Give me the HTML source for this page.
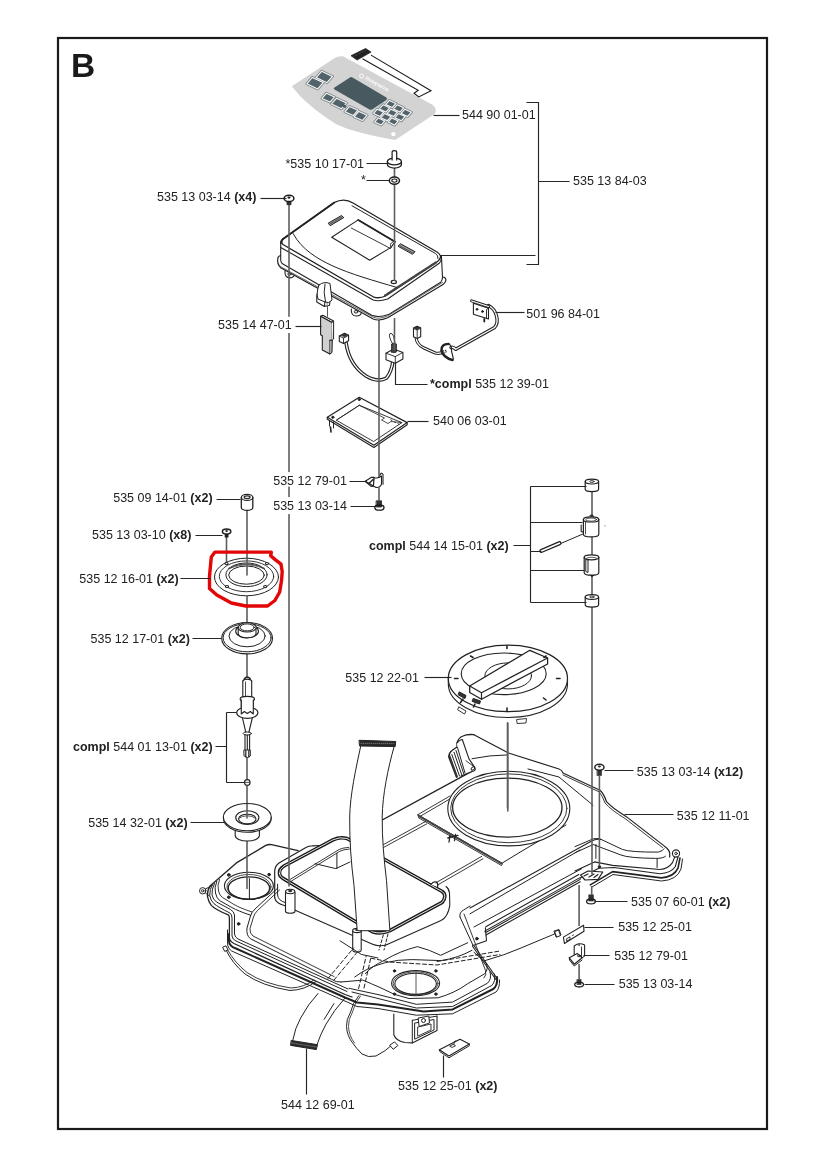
<!DOCTYPE html>
<html><head><meta charset="utf-8">
<style>
html,body{margin:0;padding:0;background:#fff;}
body{width:826px;height:1168px;overflow:hidden;}
svg{display:block;will-change:transform;}
text{font-family:"Liberation Sans",sans-serif;font-size:12.5px;fill:#222;}
.b{font-weight:bold;}
.ln{stroke:#262626;stroke-width:1.15;fill:none;}
.o{stroke:#222;stroke-width:1;fill:none;stroke-linejoin:round;stroke-linecap:round;}
.ow{stroke:#222;stroke-width:1;fill:#fff;stroke-linejoin:round;}
.halo{stroke:#fff;stroke-width:3;paint-order:stroke;}
</style></head>
<body>
<svg width="826" height="1168" viewBox="0 0 826 1168">
<!-- frame -->
<rect x="58" y="38" width="709" height="1091" fill="none" stroke="#1a1a1a" stroke-width="2.2"/>
<text x="71" y="77" style="font-size:33.5px;font-weight:bold;fill:#1a1a1a">B</text>

<!-- PARTS -->
<g id="parts">
<g id="base" class="o">
<!-- white body fill -->
<path d="M211.8 883.6 L237.2 861.8 L268 845.4 L299 850 L342 836 L383 818 L455 739.4 Q462 733 472 734.5 L508 754.9 L556 769.4 L591 786.8 L627.8 821 L663.4 843 Q670 848 668.5 855 L677 865 L670 877 L614 872 L594 884 L579 885 L497 978.5 L492.6 987.2 L427.3 1011.5 L386.6 1007.7 L355 1000.7 L237.2 945.3 L229 941.7 L230 918 L211.8 905.4 L208.2 894.5 Z" fill="#fff" stroke="none"/>

<!-- ===== left lobe outer contours ===== -->
<path d="M298 850.7 L271.5 844.6 Q268 844.3 265.8 845.4 L236.4 862.9 L210.3 885.8" stroke-width="1.35"/>
<path d="M210.3 885.8 Q207 890 207.5 896.7 Q208.5 902 211.3 905.4 Q215 909.5 228.8 915.2 Q229.5 916.5 229.4 920 V938 Q230 941.5 234 943.5 L345 994.5 L352 997" stroke-width="1.3"/>
<path d="M212.5 884.5 Q209.5 889 209.7 895.5 Q210.5 900.5 214 903.7 Q218 907 229.9 913 Q232 914.5 232 918 V936 Q232.5 939.5 236 941 L347 991.5" stroke-width="1"/>
<path d="M214.5 883.5 Q211.5 889 212 895 Q213 899.5 216.5 902 L230.5 909.5 Q234 911.5 234.5 915 V934 Q235 937.5 238 939 L348 989" stroke-width="1"/>
<path d="M216.8 881.4 Q214 888 215.5 893 Q216.5 898 219.5 900.5 L232 907.6 Q238 911 250.6 915.2" stroke-width="1"/>
<path d="M219.5 879.5 Q217 886 218.5 891 Q219.5 895.5 222.5 897.5 L234 904.5 Q240 908 252 912" stroke-width="0.9"/>
<!-- left ear -->
<circle cx="202.7" cy="890.8" r="3.2" fill="#fff"/>
<circle cx="202.7" cy="890.8" r="1.2"/>
<path d="M205.5 889 L212 885.5 M205.5 893 L209.5 896"/>
<!-- inner surface of left lobe -->
<path d="M277.8 888 L255 909 Q251.5 912 250.5 916 L247 928 Q246 935 250.4 938.7 L331.7 979.4 Q336 982.5 341 982" stroke-width="1"/>
<path d="M279.5 890 L257.5 910.5 Q254.5 913.5 253.5 917 L250 928.5 Q249.5 933.5 253 936 L334 976.5" stroke-width="0.9"/>
<circle cx="238.6" cy="923.9" r="1.3" fill="#222"/>
<!-- left lobe hole -->
<ellipse cx="248.9" cy="885.8" rx="24.5" ry="13.6" fill="#fff" stroke-width="1.1"/>
<ellipse cx="249" cy="886.9" rx="22" ry="12.4" stroke-width="0.8"/>
<ellipse cx="248.9" cy="888" rx="20.7" ry="11.2" stroke-width="1.3"/>
<circle cx="228.8" cy="874.9" r="1.3" fill="#222"/><circle cx="269.1" cy="874.6" r="1.3" fill="#222"/><circle cx="228.8" cy="897.2" r="1.3" fill="#222"/>
<path d="M249.4 878.6 V899" stroke="#222" stroke-width="1"/>
<!-- left wire -->
<path d="M226 950 Q232 963 245 974 Q262 986 290 990.5 Q305 990 316 981.5" stroke-width="1"/><path d="M227.5 949.5 Q234 962 247 972.5 Q264 984 291 988 Q304 987.5 314 980" stroke-width="0.9"/>
<path d="M226 950 Q232 963 245 974 Q262 986 290 990.5 Q305 990 316 981.5" stroke="#fff" stroke-width="0" />
<path d="M223 947 L226 945.8 L228 950 L225 951.2 Z" fill="#fff" stroke-width="1"/>

<!-- ===== gasket frame & raised housing ===== -->
<!-- gasket (thick double line) -->
<path d="M274.7 897.8 V870.7 Q275 866 279 863 L306.4 847.3 Q309 845.8 312 845.8 L322 845.5" stroke-width="1.2"/>
<path d="M277.6 884.2 V895 Q278 900.5 285.3 902.6" stroke-width="1"/>
<path d="M274.7 897.8 Q276 903.5 284.4 905.5 L372 944 Q379 947 386 945 L441 920.5 Q448 917 449.8 905.3 L449.5 893 Q449 888.5 446 886.5" stroke-width="1.1"/>
<path d="M290 879.5 L339.1 849.5 Q342 847.9 348.9 847.3 M291.5 881 L339.8 851.3 Q343 849.5 349.5 849" stroke-width="0.9"/>
<path d="M315.1 863.7 L335.8 868.6 L350 862 M336.9 853.3 V868.6" stroke-width="1"/>
<path d="M279.5 873.6 Q279 869 284 866 L333 839.8 Q340 836.5 347 838.5 L442.2 891.5 Q447.5 895.5 442.2 902.4 L389.9 930.7 Q381 934.5 372.4 931.8 L283 878.4 Q279.5 876.5 279.5 873.6 Z" stroke-width="3.6" stroke="#1a1a1a"/>
<path d="M279.5 873.6 Q279 869 284 866 L333 839.8 Q340 836.5 347 838.5 L442.2 891.5 Q447.5 895.5 442.2 902.4 L389.9 930.7 Q381 934.5 372.4 931.8 L283 878.4 Q279.5 876.5 279.5 873.6 Z" stroke="#fff" stroke-width="0.9"/>

<!-- clip on gasket corner -->
<path d="M431 884.5 Q433 881 436.5 882 Q438.5 884 437.5 887" fill="#fff" stroke-width="1.2"/>
<!-- posts -->
<path d="M285.5 892 V911.5 A4.8 2 0 0 0 295 911.5 V892" fill="#fff" stroke-width="1.1"/>
<ellipse cx="290.2" cy="891.5" rx="4.6" ry="2.2" fill="#fff" stroke-width="1.1"/>
<ellipse cx="290.2" cy="891" rx="2" ry="1.2" fill="#333" stroke="none"/>
<path d="M352.7 931 V950 A4.2 2 0 0 0 361.2 950 V931" fill="#fff" stroke-width="1.1"/>
<ellipse cx="357" cy="930.5" rx="4.3" ry="2.1" fill="#fff" stroke-width="1.1"/>
<ellipse cx="357" cy="930" rx="1.9" ry="1.1" fill="#333" stroke="none"/>

<!-- ===== platform / rear ===== -->
<path d="M350 837.5 L474.9 769.6" stroke-width="1.4"/>
<path d="M382.7 845 L425.7 821.4 M383.5 847.5 L426.5 824" stroke-width="0.9"/>
<path d="M436 882.7 L481.7 856.4 M437.6 885 L483 858.8" stroke-width="0.9"/>
<path d="M470 913.8 L580 850" stroke-width="1"/>
<!-- rear bump -->
<path d="M456.5 777.3 L448.7 757 Q449 752.5 452 750.5 L457 747 L457 742.9 Q458.5 737.5 463 736 Q467 734 473.9 734.7" fill="#fff" stroke-width="1.3"/>
<path d="M457 742.9 Q460 739.5 462.3 739.5 L469 758.9 L474.9 767.6 Q476 771 472 771.5 L461 776" fill="#fff" stroke-width="1.1"/>
<path d="M457.5 747.5 L465 773" stroke-width="1"/>
<path d="M449.8 757.5 L457.3 776.8 M451.8 754.5 L459.5 776 M454 752.3 L461.8 775 M456 750.5 L463.8 774" stroke-width="1"/>
<path d="M449.5 756 L456.8 776.5" stroke="#333" stroke-width="2" stroke-dasharray="0.7 0.7"/>
<path d="M466 760.8 L474.5 767" stroke-width="0.9"/>
<ellipse cx="472.9" cy="768.5" rx="2" ry="1.3" transform="rotate(-35 472.9 768.5)" stroke-width="1"/>
<path d="M472 758.7 Q490 755 507.8 754.9" stroke-width="1"/>
<path d="M528 769 L559 777 L593 805.2" stroke-width="1"/>
<!-- right wing top -->
<path d="M473.9 734.7 L508.5 753 L559 769 Q562 770 563 773 L600 790.3 Q604 794 606.5 801.7 Q612 808 626 816.4 L664.1 845.9 Q670 850 669.7 854 L669.7 857" stroke-width="1.2"/>
<path d="M563 775 L599 791.8 Q602.5 795.5 605 803 Q611 810 625 818.5 L662.5 847.5" stroke-width="0.9"/>
<!-- wing faces -->
<path d="M575 846.6 L593.1 838.9 Q597 838 600 838.9 L622.3 849.4 Q630 852.3 658.5 852.1 Q663 851 664.1 848.7" stroke-width="1"/>
<path d="M575 852.8 L593.1 844.5 L621 855 Q628 858 655.7 858.4 Q663 858.5 665.5 856.3" stroke-width="1"/>
<path d="M595.9 844.5 V858.4 M657.1 859.1 V867.5" stroke-width="1"/>
<!-- wing flange -->
<path d="M575 871 L594.5 861.9 L612.6 865.4 L659.9 869.5 Q668 869 672.5 862.6 L675.2 855.6" stroke-width="1.1"/>
<path d="M577.8 879.3 L598.7 868.2 L614 867.5 L659.9 873.7 Q671 873 675.2 866.8 L678 857" stroke-width="1.1"/>
<path d="M590.3 884.9 L612.6 871.6 L661.3 877.9 Q674 877 678 868.2 L680 858" stroke-width="1.6"/>
<path d="M592 887 L613 874.5 L661.5 881 Q677 880 681 869 L682.5 859" stroke-width="1"/>
<circle cx="676" cy="853.5" r="3.6" fill="#fff" stroke-width="1.1"/>
<circle cx="676" cy="853.5" r="1.3" stroke-width="0.9"/>
<circle cx="599.4" cy="866.8" r="1.2" fill="#222"/>
<path d="M580.6 875 L588 871 L602.8 872 L598 879.3 L585 880 Z" fill="#fff" stroke-width="1.2"/><path d="M584 876 l4 -2 M589 877 l5 -3 M594 877.5 l4 -3" stroke-width="1.2"/>
<!-- right platform edge lines -->
<path d="M470 908 L591.7 841 Q596 838.5 601 839.5" stroke-width="1.1"/>
<path d="M474 927 L581.7 868.7" stroke-width="1"/>
<!-- right front flange with dark band -->
<path d="M485.8 926.8 L578.8 874.5" stroke-width="1.1"/>
<path d="M485.8 931.5 L579.5 878.8" stroke-width="2.6"/>
<path d="M485.8 931.5 L579.5 878.8" stroke="#fff" stroke-width="0.8"/>
<path d="M486 935 L580.2 881.8" stroke-width="1.1"/>
<path d="M485.4 927.8 L486.5 940.7 L473 945.6" stroke-width="1.1"/>
<circle cx="476.9" cy="938.7" r="1.3" fill="#222"/>
<!-- inner platform corner near center-front -->
<path d="M460 917 Q459 912.5 463.6 910 L470 906" stroke-width="1"/>
<path d="M460 917 L473.3 946" stroke-width="1"/>
<path d="M473.3 946 L496.3 978.7" stroke-width="2.6"/>
<path d="M473.3 946 L496.3 978.7" stroke="#fff" stroke-width="0.7"/>
<path d="M464 914 L485.4 970.2 Q487 975 484 978" stroke-width="0.9"/>

<!-- ===== center front lobe ===== -->
<path d="M354.7 977 Q368 967 385.6 962.6 Q398 959.5 412.3 959.6 L441.1 960.6 Q458 958 472 950.3" stroke-width="1"/>
<path d="M365.2 973.7 Q372 966 384.6 960.2 Q400 951 417.5 946.6 Q430 950 440.7 955.3 L467.8 942.7" stroke-width="1"/>
<path d="M340 940.8 L361.3 954.4 L378 958" stroke-width="1"/>
<path d="M341 982 L362.9 980.1 Q372 984 380 987.5 Q395 996 409 998.5 L438.1 997.8 Q455 993 467.2 984 L484.6 973.8 Q489 969 486 963 L474 952.3" stroke-width="1"/>
<path d="M349 988.3 L380 995 L416.3 1004.3 L452.6 1002.1 L487.5 983.2 Q492 979 490 972" stroke-width="1"/>
<path d="M352 992 L380 999 L416.3 1008 L452.6 1006.5 L491.9 985.4 Q496 981 494.5 974" stroke-width="1"/>

<ellipse cx="415.6" cy="983.2" rx="24" ry="12.6" fill="#fff" stroke-width="1.1"/>
<ellipse cx="415.6" cy="983.4" rx="22.4" ry="11.5" stroke-width="0.8"/>
<ellipse cx="415.6" cy="983.8" rx="20.8" ry="10.6" stroke-width="1.1"/>
<path d="M416 972 V994" stroke="#444" stroke-width="0.9"/>
<circle cx="394.5" cy="970.9" r="1.2" fill="#222"/><circle cx="435.9" cy="970.9" r="1.2" fill="#222"/>
<circle cx="394.5" cy="994.1" r="1.2" fill="#222"/><circle cx="435.9" cy="994.1" r="1.2" fill="#222"/>
<!-- motor box below lobe -->
<path d="M393.8 1014 V1034.7 Q396 1041 405 1042.5 L412.3 1042.9 L437 1030.6 V1016.1" fill="#fff" stroke-width="1.1"/>
<path d="M412.3 1020.3 V1042.9 M412.3 1020.3 L437 1016.1" stroke-width="1"/>
<path d="M415 1023 L434 1019.5 V1030 L415 1039 Z" stroke-width="1"/>
<path d="M418 1027 L431 1024 V1030 L418 1036 Z" fill="#fff" stroke-width="0.9"/>
<path d="M418.5 1018 L428.8 1016 L429.5 1023 L419.5 1026.4 Z" fill="#fff" stroke-width="1"/>
<circle cx="423.5" cy="1020.5" r="2" stroke-width="1"/>
<!-- front wire -->
<path d="M358.8 995.6 Q352 1004 350.6 1012 Q346 1020 346.5 1026.4 Q347 1036 352.6 1042.9 Q356 1048 362 1054 Q368 1058 376 1056 Q386 1051 392 1045" stroke-width="1"/><path d="M360.5 996 Q354 1004 352.5 1012 Q348 1020 348.5 1026.4 Q349 1036 354.5 1042.9" stroke-width="0.8"/>
<path d="M390 1045 L394.5 1041.9 L397.9 1045.5 L393.5 1049 Z" fill="#fff" stroke-width="1"/>
<!-- right wire -->
<path d="M485.4 960.5 Q505 955 520 948.4 L554.5 934" stroke-width="1"/>
<path d="M554.3 931 L559 929.5 L561 935 L556.5 936.9 Z" fill="#fff" stroke-width="1"/>
<!-- dashed lines (hidden ribbon) -->
<g stroke-dasharray="4 2.5" stroke-width="1">
<path d="M328 978.5 L353.6 948"/>
<path d="M334 980 L359 950"/>
<path d="M358.6 988.6 L366.3 955.6"/>
<path d="M364 988 L371 957"/>
<path d="M371 958.2 L390.4 962.1 L437 965 L500 954.5"/>
<path d="M437 961.5 L500 951"/>
</g>

<!-- ===== tray & ring ===== -->
<path d="M417.8 814.7 L449.9 796 M419 817 L451 798.3" stroke-width="0.9"/>
<path d="M417.8 814.7 L502 863.2 L520 852.2 L566 825" stroke-width="1"/>
<path d="M418.5 815.8 L502 863.8" stroke="#444" stroke-width="2" stroke-dasharray="0.6 1"/><path d="M418.5 817.8 L501.5 865.5" stroke-width="0.9"/>
<path d="M447.8 838 L458 835.3 M450 835.5 L449 842 M455.5 834.5 L454.5 840.5" stroke-width="1.3"/>
<ellipse cx="508.8" cy="808.6" rx="61" ry="37.3" fill="#fff" stroke-width="1.1"/>
<ellipse cx="508.8" cy="808.3" rx="58.1" ry="34.4" stroke-width="0.9"/>
<ellipse cx="507.3" cy="807.6" rx="54.7" ry="29.5" stroke-width="1.3"/>
<path d="M507.8 723 V811" stroke="#5e5e5e" stroke-width="1.6"/>

<!-- ribbon upper -->
<path d="M360.8 745.8 C356 768 350 795 349.7 817 C349.5 840 351 862 354 885.5 L357.2 930.7 L389.9 930.7 L386.5 880.4 C384 860 382 838 382.2 817 C382.5 795 388 768 394.2 746.3 Z" fill="#fff" stroke-width="1"/>
<path d="M359.4 740.3 L395.7 741.5 L395.2 746.5 L359.9 746 Z" fill="#2a2a2a" stroke="#222" stroke-width="1"/>
<path d="M361 743.4 H394" stroke="#999" stroke-width="0.6" stroke-dasharray="0.7 1.3"/>
<path d="M383.3 935 L379 950 M388 934 L384 950" stroke-dasharray="3 2" stroke-width="1"/>
</g>

<g id="left" class="o">
<g stroke="#5e5e5e" stroke-width="1.6">
<path d="M247 510.5V567M247 596V622M247 654V677M247 757V779.5M247 785.5V804.5M247 841V888.5"/>
<path d="M226.5 537.5V562"/>
</g>
<!-- spacer 535 09 14-01 -->
<path d="M241.3 497.4 V507.4 A5.75 3 0 0 0 252.8 507.4 V497.4" fill="#fff" stroke-width="1.3"/>
<ellipse cx="247.1" cy="497.4" rx="5.75" ry="3" fill="#fff" stroke-width="1.3"/>
<ellipse cx="247.1" cy="497.2" rx="3" ry="1.3" stroke-width="1.1"/>
<!-- screw 535 13 03-10 -->
<path d="M224.7 533.5H228.5V537.5H224.7Z" fill="#222" stroke="none"/>
<ellipse cx="226.6" cy="531.6" rx="4.2" ry="2.5" fill="#fff" stroke-width="1.5"/>
<ellipse cx="226.6" cy="531" rx="1.3" ry="0.9" fill="#222" stroke="none"/>
<!-- ring 535 12 16-01 -->
<ellipse cx="246.5" cy="577" rx="32" ry="18.8" fill="#fff" stroke-width="1"/>
<ellipse cx="246.5" cy="576.3" rx="27.2" ry="15.4" stroke-width="0.9"/>
<ellipse cx="246.5" cy="574.8" rx="20.6" ry="11.8" fill="#fff" stroke-width="1"/>
<ellipse cx="246.5" cy="575.1" rx="17.8" ry="9.1" stroke-width="1"/>
<path d="M229 568.5 Q246.5 560 264 568.5" stroke-width="1.6" stroke="#444"/>
<path d="M233 567 Q246.5 562.5 260 567" stroke-width="1" stroke="#777"/>
<g fill="#fff" stroke-width="1.1">
<ellipse cx="226.5" cy="563.6" rx="1.6" ry="1.1"/><ellipse cx="267" cy="563.6" rx="1.6" ry="1.1"/>
<ellipse cx="227" cy="586.6" rx="1.6" ry="1.1"/><ellipse cx="265.2" cy="586.6" rx="1.6" ry="1.1"/>
</g>
<path d="M247 559V575" stroke="#5e5e5e" stroke-width="1.6"/>
<!-- red loop -->
<path d="M215 552.1 L271.3 552.1 L270.7 555.7 L274.9 559.4 L281 564.2 L282.2 571.5 L281.6 580 L279.7 592 L274.9 600.5 L267.6 606 L245.8 606 L231.3 603 L216.8 595.1 L209.5 588.4 L209.5 576.3 L211.3 557 Z" fill="none" stroke="#e20606" stroke-width="3.4" stroke-linejoin="round"/>
<!-- diaphragm 535 12 17-01 -->
<ellipse cx="247.1" cy="638.2" rx="25.4" ry="15.7" fill="#fff" stroke-width="1.1"/>
<ellipse cx="247.1" cy="637.8" rx="24" ry="14" stroke-width="1"/>
<ellipse cx="247.1" cy="636" rx="18.1" ry="10.8" stroke-width="1"/>
<ellipse cx="247.1" cy="631.3" rx="11.4" ry="6.5" fill="#fff" stroke-width="1.1"/>
<path d="M238.2 627.4 V634 A9 4.5 0 0 0 256 634 V627.4" fill="#fff" stroke-width="1.1"/>
<ellipse cx="247.2" cy="627.4" rx="8.9" ry="4.6" fill="#fff" stroke-width="1.1"/>
<ellipse cx="247.2" cy="627.4" rx="7" ry="3.5" fill="#fff" stroke-width="1"/>
<!-- valve compl 544 01 13-01 -->
<path d="M242.8 681 V699 M251.7 681 V699" stroke-width="1.1"/>
<path d="M245.5 682 V698" stroke-width="0.8"/>
<path d="M242.8 681.1 A4.5 2.4 0 0 1 251.7 681.1" stroke-width="1.2"/>
<path d="M244.5 678.5 Q247.3 675.5 250 678.5" stroke-width="1.6"/>
<ellipse cx="247.3" cy="699" rx="7.2" ry="2.6" fill="#fff" stroke-width="1.1"/>
<path d="M241.3 700 V713 M253.3 700 V713" stroke-width="1.1"/>
<ellipse cx="247.3" cy="712.8" rx="10.6" ry="5.6" fill="#fff" stroke-width="1.1"/>
<path d="M241.3 700 V714 L244.3 711.5 L247.3 713.5 L250.3 711.5 L253.3 714 V700" fill="#fff" stroke-width="1.1"/>
<path d="M242.5 718 L246 733 M252.3 718 L248.7 733" stroke-width="1.1"/>
<ellipse cx="247.3" cy="733.5" rx="4.2" ry="1.6" fill="#fff" stroke-width="1"/>
<path d="M245 734.5 V750 M249.6 734.5 V750 M247.3 735 V750" stroke-width="1.1"/>
<path d="M244.3 750 H250.3 V756 L247.3 757.5 L244.3 756Z" fill="#fff" stroke-width="1"/><path d="M245.8 750.5 V757 M248.8 750.5 V757" stroke-width="1.2"/>
<circle cx="247.3" cy="782.4" r="2.8" fill="#fff" stroke-width="1.1"/>
<path d="M245 782.4 H249.6" stroke-width="0.8"/>
<!-- grommet 535 14 32-01 -->
<path d="M235.2 829 V835.5 A12.1 5.5 0 0 0 259.4 835.5 V829" fill="#fff" stroke-width="1.1"/>
<path d="M223.4 817.1 V818.6 A23.9 13.6 0 0 0 271.2 818.6 V817.1" fill="#fff" stroke-width="1.1"/>
<ellipse cx="247.3" cy="817.1" rx="23.9" ry="13.6" fill="#fff" stroke-width="1.1"/>
<ellipse cx="247.3" cy="817.6" rx="11.6" ry="6.8" fill="#fff" stroke-width="1.1"/>
<ellipse cx="247.3" cy="819" rx="8.7" ry="4.8" fill="#fff" stroke-width="1.1"/>
<path d="M239.5 818 A8.7 4 0 0 1 255 818" stroke-width="0.8"/>
<path d="M247 804.5 V818" stroke="#5e5e5e" stroke-width="1.6"/>
</g>

<g id="mid1" class="o">
<!-- clip on lid -->
<path d="M322.7 281.4 L329.9 285.1 Q332 288 331 293 L329.5 305.3 L324.4 306.4 L316.8 302 L316.8 295.8 Q317.5 289 320.3 284 Z" fill="#fff" stroke-width="1.1"/>
<path d="M329.9 285.1 Q325.5 290 324.4 306.4" stroke-width="1"/>
<path d="M331 288 Q327.5 293 327 306" stroke="#999" stroke-width="1.2"/>
<path d="M327.5 306.4V316.3" stroke="#555"/>
<!-- tab 535 14 47-01 -->
<path d="M320.6 316.3 L322.7 315.3 L333.6 321.1 L331.9 322.5 Z" fill="#fff" stroke-width="1.1"/>
<path d="M320.6 316.3 V334.8 L322.3 335.8 V349.9 L329.9 354 V340.3 L332.3 340.3 V322.5 L331.9 322.5 Z" fill="#d0d0d0" stroke-width="1.1"/>
<path d="M331.9 322.5 L333.6 321.1 V339 L332.3 340.3" fill="#fff" stroke-width="1"/>
<path d="M329.9 340.3 L332.3 340.3 L332 352.5 L329.9 354" fill="#a8a8a8" stroke-width="1"/>
</g>

<g id="mid2" class="o">
<!-- 501 96 84-01 wire -->
<path d="M488.5 305.5 Q495 309 496.5 316 Q498.5 323 494.6 327.5 L455.8 349.3 Q453 346.5 451 347.5" stroke="#222" stroke-width="3.4"/>
<path d="M488.5 305.5 Q495 309 496.5 316 Q498.5 323 494.6 327.5 L455.8 349.3 Q453 346.5 451 347.5" stroke="#fff" stroke-width="1.3"/>
<path d="M473.4 303.3 L488.5 308.2 L488.5 319 L473.4 314.2 Z" fill="#fff" stroke-width="1.1"/>
<path d="M488.5 308.2 L486.5 309.5 V318.5" stroke-width="0.9"/>
<path d="M471.6 300.9 L488.5 306.5" stroke="#222" stroke-width="3"/>
<path d="M471.6 300.9 L488.5 306.5" stroke="#fff" stroke-width="1.1"/>
<circle cx="477" cy="309.3" r="0.9" fill="#222"/><circle cx="482.5" cy="311.5" r="0.9" fill="#222"/>
<path d="M484.3 319 V321.5" stroke-width="1.8"/>
<!-- compl 535 12 39-01 left connector & cable -->
<path d="M346.1 343 C348 356 354 368 366 376 Q378 383 386.5 378 Q391.5 372 393 361" stroke="#222" stroke-width="3.6"/>
<path d="M346.1 343 C348 356 354 368 366 376 Q378 383 386.5 378 Q391.5 372 393 361" stroke="#fff" stroke-width="1.4"/>
<path d="M339.3 336 L344.5 333.2 L348.6 335.2 L348.6 340.8 L343.5 343.6 L339.3 341.6 Z" fill="#fff" stroke-width="1.1"/>
<path d="M339.3 336 L343.5 338.2 L348.6 335.2 M343.5 338.2 V343.6" stroke-width="0.9"/>
<path d="M341.5 335.5 L344.6 333.8 L347.5 335.3 L344.4 337 Z" fill="#333" stroke-width="0.5"/>
<!-- switch -->
<path d="M386 353.2 L393.6 349 L402.9 352.4 L402.9 359 L395.3 363.2 L386 359.8 Z" fill="#fff" stroke-width="1.1"/>
<path d="M386 353.2 L395.3 356.6 L402.9 352.4 M395.3 356.6 V363.2" stroke-width="0.9"/>
<path d="M391.5 352 V344 Q394 342.5 396.5 344 V352 Q394 353.5 391.5 352Z" fill="#444" stroke-width="0.8"/>
<path d="M392.5 343.5 Q388 336 390 333.5 Q392 332.5 393.5 336 L395 343" stroke-width="0.9"/>
<!-- right connector & cable -->
<path d="M416 337 Q416.5 344.5 424 348 L435.3 353 Q440 354 445 351.5" stroke="#222" stroke-width="3.2"/>
<path d="M416 337 Q416.5 344.5 424 348 L435.3 353 Q440 354 445 351.5" stroke="#fff" stroke-width="1.2"/>
<path d="M413.5 328 L417 326.3 L420.7 327.8 L420.7 336.8 L417.2 338.4 L413.5 336.8 Z" fill="#fff" stroke-width="1.1"/>
<path d="M413.8 328.5 L417.2 330 L420.5 328.3 M417.2 330 V338" stroke-width="0.9"/>
<path d="M414 328 L417 326.6 L420 328 L417 329.4Z" fill="#333" stroke-width="0.5"/>
<path d="M448.5 344 Q441 344 441.5 350.5 Q443 357.5 452.5 360" stroke="#222" stroke-width="2.6"/>
<path d="M448 345.5 Q444 347 444.5 351 Q446 356 451.5 358" stroke="#fff" stroke-width="0.8"/>
<path d="M449 344 Q452 346 451.5 351 L453.4 359" stroke-width="1.1"/>
<!-- board 540 06 03-01 -->
<path d="M327.3 417.3 L359.3 397.3 L407.2 422.6 L373.9 445.2 Z" fill="#fff" stroke-width="1.2"/>
<path d="M327.3 417.3 L327.3 419.3 L373.9 447.5 L407.2 424.8 L407.2 422.6" stroke-width="1.1"/>
<path d="M336.6 420 L359.3 405.3 L401.9 422.6 L373.9 441.3 Z" stroke-width="0.9"/>
<path d="M359.3 405.3 L384.5 418 L381.5 420 L388 423.5 L391 421.5 L401.9 422.6" stroke-width="0.8"/><path d="M336.6 420 L359.3 405.3" stroke-width="0.8"/>
<circle cx="359.3" cy="399.5" r="1.1" fill="#222"/>
<circle cx="332.8" cy="417.3" r="1.1" fill="#222"/>
<path d="M329.5 420.5 V426 M333.5 422 V428" stroke-width="1"/>
<path d="M330.5 427 L331 432" stroke-width="1.6"/>
<path d="M391 420 l1 0.5 M394.5 422 l1 0.5 M398 423.8 l1 0.5" stroke-width="1"/>
<!-- clip 535 12 79-01 -->
<path d="M373.9 477.4 Q378 479 381.5 476 V484.2 Q380 487.8 376 487.4 L373.4 486.1 Z" fill="#fff" stroke-width="1.1"/>
<path d="M379.5 476 Q381 471.5 383 474.5 V484.2" stroke-width="1.1"/>
<path d="M365.2 481.3 L371.5 477.2 L373.9 477.4 L373.4 486.1 L371 486.4 Z" fill="#fff" stroke-width="1.1"/>
<path d="M365.2 481.3 L373.4 486 M369 483.5 L373 479.6" stroke-width="1.4"/>
<!-- screw under -->
<path d="M376.5 500.8 H381.5 V507 H376.5Z" fill="#333" stroke="#222" stroke-width="0.8"/>
<ellipse cx="379.4" cy="507.6" rx="4.6" ry="2.6" fill="none" stroke="#1a1a1a" stroke-width="1.3"/>
</g>
<g stroke="#5e5e5e" stroke-width="1.6" fill="none">
<path d="M379 320V477M379 487.6V501"/>
</g>

<g id="right" class="o">
<g stroke="#5e5e5e" stroke-width="1.6">
<path d="M592 491.5V517M592 537V557M592 575.5V595M592 606.5V874"/>
<path d="M507.5 723V808"/>
</g>
<!-- spacer top -->
<path d="M585.2 481.6 V489.3 A6.7 2.3 0 0 0 598.6 489.3 V481.6" fill="#fff" stroke-width="1.2"/>
<ellipse cx="591.9" cy="481.6" rx="6.7" ry="2.4" fill="#fff" stroke-width="1.2"/>
<ellipse cx="591.9" cy="481.5" rx="2.2" ry="0.9" stroke-width="0.9"/>
<!-- hinge 1 -->
<path d="M590.5 515 L593 515 L593.5 518.5 L590 518.5Z" fill="#333" stroke-width="0.6"/>
<path d="M583.4 519.4 V534.2 A7.7 2.6 0 0 0 598.8 534.2 V519.4" fill="#fff" stroke-width="1.2"/>
<ellipse cx="591.1" cy="519.4" rx="7.7" ry="2.6" fill="#fff" stroke-width="1.2"/>
<ellipse cx="591.1" cy="519.6" rx="5.5" ry="1.6" stroke-width="0.8"/>
<path d="M581.2 525 V531.6 L583.4 532" stroke-width="1.1"/>
<path d="M585.5 521.5 V534" stroke-width="0.8"/>
<path d="M560 543.8 L582.5 534.2" stroke-width="1"/>
<path d="M541.4 550.9 L559.4 543.2" stroke="#222" stroke-width="4.2" stroke-linecap="round"/>
<path d="M541.4 550.9 L559.4 543.2" stroke="#fff" stroke-width="1.6" stroke-linecap="round"/>
<!-- hinge 2 -->
<path d="M584.2 557.3 V572.7 A7.3 2.5 0 0 0 598.8 572.7 V557.3" fill="#fff" stroke-width="1.2"/>
<ellipse cx="591.5" cy="557.3" rx="7.3" ry="2.5" fill="#fff" stroke-width="1.3"/><path d="M586 558.5 Q591.5 556 597 558.5" stroke="#666" stroke-width="1.2"/>
<path d="M585.8 559.8 V571.5 L588 572.5 V560.5 Z" stroke-width="1"/>
<path d="M590 575 L592 577 L594 575" fill="#222" stroke-width="0.8"/>
<!-- spacer bottom -->
<path d="M585.2 597.1 V604.8 A6.7 2.3 0 0 0 598.6 604.8 V597.1" fill="#fff" stroke-width="1.2"/>
<ellipse cx="591.9" cy="597.1" rx="6.7" ry="2.4" fill="#fff" stroke-width="1.2"/>
<ellipse cx="591.9" cy="597" rx="2.2" ry="0.9" stroke-width="0.9"/>
<circle cx="605" cy="525.8" r="0.6" fill="#666" stroke="none"/>
<!-- dial cover 535 12 22-01 -->
<path d="M459 707 L466 711 L464.5 714 L458 710Z" fill="#fff" stroke-width="0.9"/>
<path d="M517 719.5 L526.5 718.5 L526 723 L517.5 723.5Z" fill="#fff" stroke-width="0.9"/>
<path d="M448.3 678.4 V684 A59.6 33.5 0 0 0 567.5 684 V678.4" fill="#fff" stroke-width="1.1"/>
<ellipse cx="507.9" cy="678.4" rx="59.6" ry="33.3" fill="#fff" stroke-width="1.2"/>
<ellipse cx="503.7" cy="673.8" rx="42.5" ry="20.8" stroke-width="1.1"/>
<ellipse cx="508.2" cy="675.9" rx="23.3" ry="13" stroke-width="1"/>
<path d="M469.7 686 L529.8 650.3 L547.6 658 L547.6 664 L481.5 699.2 L469.7 692.5 Z" fill="#fff" stroke-width="1.3"/>
<path d="M469.7 686 L481.5 692.7 L547.6 658 M481.5 692.7 V699.2" stroke-width="1.2"/>
<g stroke-width="1.6">
<path d="M507 646 V648.5 M470.5 656 l2.5 1.5 M454.5 678.5 h3.5 M560 678.5 h-3.5 M546 700 l-2.5 -2 M507 708 v3.5 M546 656 l-2 1.5"/>
</g>
<path d="M459.5 692 L466 695.5 L465 698.5 L458.5 695 Z M473.5 698.5 L480.5 701 L479.5 704 L472.5 701.5 Z" fill="#333" stroke="#222" stroke-width="1"/><path d="M463 699 l-2.5 3.5 M475 704 l-1.5 3" stroke-width="1.6"/>
</g>

<!-- keypad overlay 544 90 01-01 -->
<g id="keypad">
<path d="M291.9 86.3L333.5 58.7Q338 55.8 343 56.3L432 104.5Q437.5 108 435 113.7L395.2 139.9C372 136 350 131 336 124 C318 113 302 100 291.9 86.3Z" fill="#d3d3d3"/>
<path d="M349.9 77.4Q351 76.8 352.5 77.4L386 97.3Q388 98.8 386 100.3L372.5 109.3Q371 110.2 369.5 109.5L334.5 89.5Q333 88.5 334.5 87.6Z" fill="#485a5f"/>
<g fill="none" stroke="#7d888b" stroke-width="2.8" stroke-linejoin="round">
<path d="M316.1 77.6 L327.0 82.7 L332.5 76.4 L321.6 71.3Z"/>
<path d="M306.8 83.8 L317.7 88.9 L323.2 82.6 L312.3 77.5Z"/>
<path d="M321.9 98.4 L330.0 102.1 L334.5 97.0 L326.4 93.3Z"/>
<path d="M331.5 104.0 L341.5 108.7 L346.5 103.0 L336.5 98.3Z"/>
<path d="M344.9 111.8 L353.2 115.6 L357.9 110.2 L349.6 106.4Z"/>
<path d="M354.1 116.8 L362.4 120.6 L367.1 115.2 L358.8 111.4Z"/>
<path d="M385.7 104.6 L392.2 107.6 L395.9 103.4 L389.4 100.4Z"/>
<path d="M379.4 109.0 L385.9 112.0 L389.6 107.8 L383.1 104.8Z"/>
<path d="M393.5 109.0 L400.0 112.0 L403.7 107.8 L397.2 104.8Z"/>
<path d="M373.6 113.4 L380.1 116.4 L383.8 112.2 L377.3 109.2Z"/>
<path d="M387.2 113.4 L393.7 116.4 L397.4 112.2 L390.9 109.2Z"/>
<path d="M401.2 113.4 L407.7 116.4 L411.4 112.2 L404.9 109.2Z"/>
<path d="M380.9 117.7 L387.4 120.7 L391.1 116.5 L384.6 113.5Z"/>
<path d="M394.9 117.7 L401.4 120.7 L405.1 116.5 L398.6 113.5Z"/>
<path d="M374.6 122.1 L381.1 125.1 L384.8 120.9 L378.3 117.9Z"/>
<path d="M388.1 122.1 L394.6 125.1 L398.3 120.9 L391.8 117.9Z"/>
</g>
<g fill="#52636a" stroke="#f6f6f6" stroke-width="1.1" stroke-linejoin="round">
<path d="M316.1 77.6 L327.0 82.7 L332.5 76.4 L321.6 71.3Z"/>
<path d="M306.8 83.8 L317.7 88.9 L323.2 82.6 L312.3 77.5Z"/>
<path d="M321.9 98.4 L330.0 102.1 L334.5 97.0 L326.4 93.3Z"/>
<path d="M331.5 104.0 L341.5 108.7 L346.5 103.0 L336.5 98.3Z"/>
<path d="M344.9 111.8 L353.2 115.6 L357.9 110.2 L349.6 106.4Z"/>
<path d="M354.1 116.8 L362.4 120.6 L367.1 115.2 L358.8 111.4Z"/>
<path d="M385.7 104.6 L392.2 107.6 L395.9 103.4 L389.4 100.4Z"/>
<path d="M379.4 109.0 L385.9 112.0 L389.6 107.8 L383.1 104.8Z"/>
<path d="M393.5 109.0 L400.0 112.0 L403.7 107.8 L397.2 104.8Z"/>
<path d="M373.6 113.4 L380.1 116.4 L383.8 112.2 L377.3 109.2Z"/>
<path d="M387.2 113.4 L393.7 116.4 L397.4 112.2 L390.9 109.2Z"/>
<path d="M401.2 113.4 L407.7 116.4 L411.4 112.2 L404.9 109.2Z"/>
<path d="M380.9 117.7 L387.4 120.7 L391.1 116.5 L384.6 113.5Z"/>
<path d="M394.9 117.7 L401.4 120.7 L405.1 116.5 L398.6 113.5Z"/>
<path d="M374.6 122.1 L381.1 125.1 L384.8 120.9 L378.3 117.9Z"/>
<path d="M388.1 122.1 L394.6 125.1 L398.3 120.9 L391.8 117.9Z"/>
</g>
<path d="M341.5 104.5l4.5 2.6" stroke="#485a5f" stroke-width="2.4"/>
<circle cx="393.4" cy="134.1" r="2.2" fill="#fff"/>
<circle cx="361.5" cy="76" r="2" fill="none" stroke="#fff" stroke-width="0.8"/><text x="365" y="79" transform="rotate(29 365 79)" style="font-size:5px;fill:#fff;font-weight:bold">Husqvarna</text>
<path d="M351 55.7L365.6 48.5L371 52.1L357.1 60Z" fill="#222" stroke="#222" stroke-width="0.8" stroke-linejoin="round"/><path d="M353.5 56.5 L366.5 49.8" stroke="#777" stroke-width="0.6" stroke-dasharray="0.8 0.8"/>
<path d="M371 55.1L431 90.8L418.8 96.9L414 93.3L418.2 90.2L362.5 58.8" fill="#fff" stroke="#1a1a1a" stroke-width="1.1" stroke-linejoin="miter"/>
</g>

<!-- control box lid 535 13 84-03 -->
<g id="lid" class="o">
<!-- tabs under flange -->
<path d="M285 271 Q284.5 277.9 290 277.9 Q294.5 277.5 294.5 274" fill="#fff" stroke-width="1.1"/>
<ellipse cx="289.5" cy="274" rx="1.7" ry="1.2" stroke-width="1"/>
<path d="M351.3 309 Q350.8 316 356.5 316 Q361 315.8 361.3 312.5" fill="#fff" stroke-width="1.1"/>
<ellipse cx="356" cy="311.8" rx="1.8" ry="1.3" stroke-width="1"/>
<!-- flange -->
<path d="M280.7 255.5 Q278 256 277.8 258.5 Q276.8 263.5 280.7 267.8 L373.2 319 Q379 321.5 387.7 317.8 L443 284.5 Q446.5 281.5 445.8 279 Q445 277.5 443.6 277.1" fill="#fff" stroke-width="1.2"/>
<path d="M279.3 266 L373.5 317.3 Q379 319.5 387.5 316 L442.5 282.5" stroke-width="0.9" stroke="#555"/>
<!-- side wall -->
<path d="M280.7 243.1 V260.5 Q281 263 282.9 264.1 L371.7 315.3 Q379 318 388.4 314.6 L440.7 282.2 Q442.5 280.5 442.5 277.1 L441.4 256" fill="#fff" stroke-width="1.1"/>
<!-- top -->
<path d="M282.9 244.5 L373.2 296.8 Q379 299 385.5 296 L436.3 262.6 Q441 259 440.5 256 Q439.5 253.5 437 252 L353 203 Q344 197.5 334 202.7 L283 239 Q280.5 241.5 282.9 244.5 Z" fill="#fff" stroke-width="1.3"/>
<path d="M334 202.7 L283 239 Q280.5 241.5 281 243" stroke-width="1.9"/>
<path d="M280.7 247.4 L373.2 300 Q379 302 387.7 299 L439.2 263.3 Q442 260.5 441 256.5" stroke-width="1.1"/>
<path d="M352 205.8 L435.5 253.5 Q438.5 255.5 438 258.5" stroke-width="1"/>
<path d="M436 262.3 L385 295.5" stroke="#444" stroke-width="2.2" stroke-dasharray="0.8 0.6"/>
<path d="M293.1 233.6 C302 250 318 259 332 265.6 C350 274 375 281 396.4 287.3" stroke-width="1"/>
<!-- window -->
<path d="M358.2 219.9 L395 241.8 L391 247.4 L369.7 260.2 L331.7 237.2 Z" stroke-width="1.1"/>
<path d="M358.2 219.9 L395 241.8" stroke-width="1.8"/>
<path d="M351.3 228 L390.5 248.5" stroke-width="0.9"/>
<path d="M391 247.4 Q389 243.5 392.5 242.2" stroke-width="0.9"/>
<path d="M398.3 246 L400.5 243.8 L415 251.7 L412.8 254 Z" fill="#999" stroke-width="1"/>
<path d="M400 246 L413 253" stroke="#444" stroke-width="0.8" stroke-dasharray="1 0.6"/>
<path d="M328.5 223 L341.5 215.5 L343.8 217.6 L330.5 225.5 Z" fill="#999" stroke-width="1"/>
<path d="M330 224 L342 217" stroke="#444" stroke-width="0.8" stroke-dasharray="1 0.6"/>
<ellipse cx="393.8" cy="282" rx="2.6" ry="1.6" stroke-width="1.2"/>
<!-- clip -->
<path d="M319 285 Q324 281 330 283.5 L332 300 Q329 304 325 302 L318 299 Q316 293 319 285Z" fill="#fff"/>
<path d="M325 284 Q323 292 325.5 302"/>
</g>

<g class="vl" stroke="#5e5e5e" stroke-width="1.6" fill="none">
<path d="M289 204V886.5"/>
<path d="M394.5 168V281M394.5 318V350"/>
</g>
<g><path d="M287.0 199.9V204.7H291.0V199.9" fill="#333" stroke="#222" stroke-width="0.8"/><ellipse cx="289" cy="198.4" rx="4.9" ry="3.1" fill="#fff" stroke="#1a1a1a" stroke-width="1.5"/><ellipse cx="289" cy="197.6" rx="1.6" ry="1.1" fill="#1a1a1a"/></g>
<path d="M387.4 161.5 V164.5 A7 3.6 0 0 0 401.4 164.5 V161.5" fill="#fff" stroke="#1a1a1a" stroke-width="1.3"/><ellipse cx="394.4" cy="161.5" rx="7" ry="3.4" fill="#fff" stroke="#1a1a1a" stroke-width="1.3"/><path d="M392.09999999999997 160.5 V152.0 A2.3 1.4 0 0 1 396.7 152.0 V160.5" fill="#fff" stroke="#1a1a1a" stroke-width="1.2"/>
<ellipse cx="394.4" cy="180.6" rx="5.1" ry="3.6" fill="#fff" stroke="#1a1a1a" stroke-width="1.5"/><ellipse cx="394.4" cy="180.6" rx="2.6" ry="1.6" fill="#fff" stroke="#1a1a1a" stroke-width="1.1"/>
<g id="bottomparts" class="o">
<!-- lower ribbon -->
<path d="M292.7 1040.5 Q295 1028 300.6 1018.1 Q308 1004 317.5 993.9 L344.2 998.7 Q334 1010 326 1024.2 Q320 1035 317 1044.7 Z" fill="#fff" stroke="none"/>
<path d="M292.7 1040.5 Q295 1028 300.6 1018.1 Q308 1004 318 993.5 M345 998 Q334 1010 326 1024.2 Q320 1035 317 1044.7" stroke-width="1"/>
<path d="M229 934 V940 Q228.5 946 236 948.5 L345 997.5 L357 1002.5 L378 1004.5 L423.6 1011.6 L452.6 1009.4 L493.3 989 Q498 985 497 977" stroke-width="2"/>
<path d="M227.5 930 V942 Q227 950 235 952.5 L346 1001.5 L357 1006.5 L378 1008.5 L416.3 1015.2 L452.6 1013.8 L496 992 Q500 988 499.5 980" stroke-width="1"/>
<path d="M324.2 1019.3 L333.9 1003.6" stroke-width="1"/>
<path d="M291.5 1040.5 L317.5 1044.7 L316.3 1049.6 L290.9 1045.4 Z" fill="#2a2a2a" stroke="#222" stroke-width="1"/>
<path d="M292 1043 L316.5 1047" stroke="#888" stroke-width="0.7" stroke-dasharray="1 1"/>
<!-- bottom tag 535 12 25-01 -->
<path d="M439.4 1049.7 L460 1039.3 L469.3 1044 L448.9 1056 Z" fill="#fff" stroke-width="1.1"/>
<path d="M439.4 1049.7 L439.8 1051.5 L448.9 1057.8 L469.3 1045.8 L469.3 1044" stroke-width="1"/>
<path d="M450 1046 l3 -1.6 l2.5 1.3 l-3 1.6z M454 1044.3 v-2.5 l2 -1" stroke-width="0.9"/>
<!-- right tag 535 12 25-01 -->
<path d="M563.4 937.1 L583.6 925.3 L584 931.2 L564.4 943.5 Z" fill="#fff" stroke-width="1.1"/>
<path d="M567 938.5 l3 -1.7 v2.5 l-3 1.7z M572.5 935.5 l1 -0.5" stroke-width="0.9"/>
<!-- wire connector right -->
<path d="M555 931.5 L558.5 930 L560.5 935.5 L557 937 Z" fill="#fff" stroke-width="1"/>
<!-- clip 535 12 79-01 right -->
<path d="M574.2 946 Q579 942 584.6 945 V956 Q582 959 578 958 L574.2 956.5 Z" fill="#fff" stroke-width="1.1"/>
<path d="M581.5 947 V957" stroke-width="0.9"/>
<path d="M569.3 957.8 L577.2 953.4 L582.1 957.8 L574.2 964.2 Z" fill="#fff" stroke-width="1.1"/>
<path d="M569.3 957.8 L569.5 960 L574.2 966 L582.1 960" stroke-width="1"/>
<ellipse cx="579" cy="955.8" rx="1.6" ry="1" stroke-width="0.9"/>
<!-- screws -->
<path d="M589 894.8 H593.4 V901 H589Z" fill="#333" stroke="#222" stroke-width="0.6"/>
<ellipse cx="591" cy="901.4" rx="4.4" ry="2.4" stroke-width="1.3"/>
<path d="M577.2 979.5 H581.1 V984.5 H577.2Z" fill="#333" stroke="#222" stroke-width="0.6"/>
<ellipse cx="579.1" cy="984.6" rx="4.4" ry="2.4" stroke-width="1.3"/>
<!-- screw x12 -->
<path d="M597.3 769 H601.5 V775.5 H597.3Z" fill="#333" stroke="#222" stroke-width="0.6"/>
<ellipse cx="599.4" cy="767.3" rx="4.6" ry="3" fill="#fff" stroke-width="1.5"/>
<ellipse cx="599.4" cy="766.6" rx="1.4" ry="1" fill="#222" stroke="none"/>
</g>
<g stroke="#5e5e5e" stroke-width="1.6" fill="none">
<path d="M599.4 775.5V866"/>
<path d="M591.7 886V894.8"/>
<path d="M579.1 885V926 M579.1 943V946 M579.1 964V979.5"/>
</g>


</g>

<!-- leaders -->
<g class="ln" id="leaders">
<path d="M433.5 115.5H459.5"/>
<path d="M526.5 102.5H538.5V264.5H526.5M538.5 181.5H569.5M440.5 255.5H535.5"/>
<path d="M366.5 163.5H388.5M366.5 180.5H389.5"/>
<path d="M260.5 198.5H286.5"/>
<path d="M295.5 326.5H321.5"/>
<path d="M495.5 312.5H524.5"/>
<path d="M395.5 362.5V384.5H427.5"/>
<path d="M407.5 421.5H428.5"/>
<path d="M349.5 481.5H366.5M350.5 506.5H375.5"/>
<path d="M216.5 499.5H240.5M195.5 535.5H222.5M180.5 578.5H210.5M192.5 638.5H221.5"/>
<path d="M513.5 545.5H530.5M530.5 486.5V602.5M530.5 486.5H586.5M530.5 522.5H582.5M530.5 551.5H541.5M530.5 570.5H584.5M530.5 602.5H586.5"/>
<path d="M424.5 677.5H451.5"/>
<path d="M215.5 746.5H226.5M226.5 712.5V782.5M226.5 712.5H236.5M226.5 782.5H244.5"/>
<path d="M190.5 822.5H224.5"/>
<path d="M604.5 770.5H633.5M624.5 814.5H673.5M594.5 901.5H627.5M584.5 927.5H613.5M583.5 955.5H609.5M584.5 984.5H614.5"/>
<path d="M306.5 1048.5V1094.5M443.5 1055.5V1077.5"/>
</g>

<!-- labels -->
<g id="labels">
<rect x="286.5" y="316.8" width="5" height="16.2" fill="#fff"/>
<rect x="286.5" y="472.1" width="5" height="14.1" fill="#fff"/>
<rect x="286.5" y="497" width="5" height="17.1" fill="#fff"/>
<text x="462" y="119">544 90 01-01</text>
<text x="573" y="185">535 13 84-03</text>
<text x="285.5" y="167.7">*535 10 17-01</text>
<text x="361" y="184">*</text>
<text x="157" y="201">535 13 03-14 <tspan class="b">(x4)</tspan></text>
<text x="218" y="328.7" class="halo">535 14 47-01</text>
<text x="526.3" y="318">501 96 84-01</text>
<text x="430" y="388"><tspan class="b">*compl</tspan> 535 12 39-01</text>
<text x="433" y="424.7">540 06 03-01</text>
<text x="273.2" y="485" class="halo">535 12 79-01</text>
<text x="273.2" y="509.5" class="halo">535 13 03-14</text>
<text x="113.2" y="502.3">535 09 14-01 <tspan class="b">(x2)</tspan></text>
<text x="92" y="539.3">535 13 03-10 <tspan class="b">(x8)</tspan></text>
<text x="369" y="550.3" class="halo"><tspan class="b">compl</tspan> 544 14 15-01 <tspan class="b">(x2)</tspan></text>
<text x="79.3" y="583">535 12 16-01 <tspan class="b">(x2)</tspan></text>
<text x="90.5" y="642.7">535 12 17-01 <tspan class="b">(x2)</tspan></text>
<text x="345.3" y="682">535 12 22-01</text>
<text x="73" y="750.6"><tspan class="b">compl</tspan> 544 01 13-01 <tspan class="b">(x2)</tspan></text>
<text x="636.8" y="776.1">535 13 03-14 <tspan class="b">(x12)</tspan></text>
<text x="676.8" y="819.8">535 12 11-01</text>
<text x="88.2" y="827">535 14 32-01 <tspan class="b">(x2)</tspan></text>
<text x="631" y="905.8">535 07 60-01 <tspan class="b">(x2)</tspan></text>
<text x="618.2" y="931.1">535 12 25-01</text>
<text x="614.2" y="960">535 12 79-01</text>
<text x="618.7" y="988.3">535 13 03-14</text>
<text x="398.1" y="1090.3">535 12 25-01 <tspan class="b">(x2)</tspan></text>
<text x="281" y="1108.6">544 12 69-01</text>
</g>
</svg>
</body></html>
